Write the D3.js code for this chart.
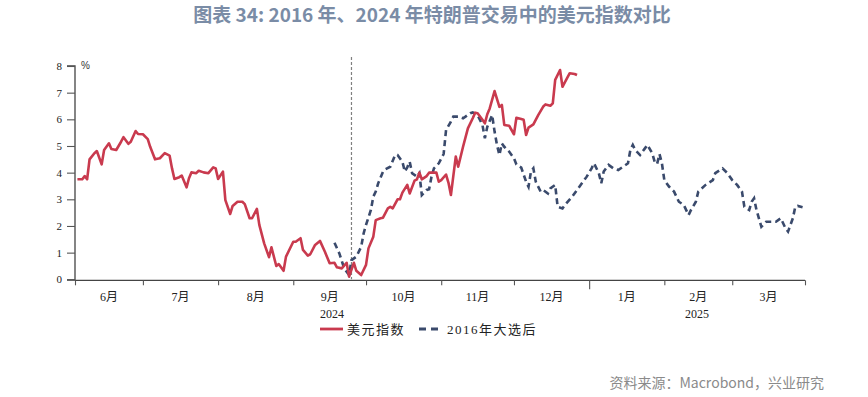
<!DOCTYPE html>
<html>
<head>
<meta charset="utf-8">
<script src="https://cdn.jsdelivr.net/npm/d3@7"></script>
<style>
  body { margin: 0; background: #fff; }
  svg { display: block; }
  .tick-label { font-family: "Liberation Serif", "Noto Sans CJK SC", serif; font-size: 12px; fill: #222; }
</style>
</head>
<body>
<div id="chart"></div>
<script>
// Chart geometry
const svgWidth = 868;
const svgHeight = 397;
const plot = { left: 75, right: 805, top: 66, bottom: 279.3 };

// Texts
const titleText = "图表 34: 2016 年、2024 年特朗普交易中的美元指数对比";
const sourceText = "资料来源：Macrobond，兴业研究";
const seriesNames = ["美元指数", "2016年大选后"];
const yTicks = [0, 1, 2, 3, 4, 5, 6, 7, 8];
const monthLabels = ["6月", "7月", "8月", "9月", "10月", "11月", "12月", "1月", "2月", "3月"];
const yearLabels = ["2024", "2025"];

// x range of the axis and the alignment marker
const axisStart = "2024-06-03";
const axisEnd = "2025-03-31";
const markerDate = "2024-09-25";

// 美元指数 (2024), % change
const usd2024 = [
  ["2024-06-04", 3.75], ["2024-06-06", 3.75], ["2024-06-07", 3.87], ["2024-06-08", 3.75],
  ["2024-06-09", 4.5], ["2024-06-11", 4.73], ["2024-06-12", 4.81], ["2024-06-14", 4.31],
  ["2024-06-15", 4.85], ["2024-06-17", 5.1], ["2024-06-18", 4.89], ["2024-06-20", 4.85],
  ["2024-06-22", 5.16], ["2024-06-23", 5.33], ["2024-06-25", 5.08], ["2024-06-26", 5.16],
  ["2024-06-28", 5.56], ["2024-06-29", 5.45], ["2024-07-01", 5.44], ["2024-07-03", 5.26],
  ["2024-07-04", 4.97], ["2024-07-06", 4.5], ["2024-07-08", 4.54], ["2024-07-10", 4.73],
  ["2024-07-12", 4.64], ["2024-07-13", 4.16], ["2024-07-14", 3.76], ["2024-07-16", 3.83],
  ["2024-07-17", 3.89], ["2024-07-19", 3.45], ["2024-07-20", 3.79], ["2024-07-21", 4.01],
  ["2024-07-23", 3.98], ["2024-07-24", 4.07], ["2024-07-26", 4.01], ["2024-07-28", 3.98],
  ["2024-07-30", 4.2], ["2024-07-31", 4.16], ["2024-08-01", 3.76], ["2024-08-03", 4.04],
  ["2024-08-04", 2.97], ["2024-08-06", 2.45], ["2024-08-07", 2.75], ["2024-08-09", 2.91],
  ["2024-08-11", 2.91], ["2024-08-12", 2.82], ["2024-08-14", 2.29], ["2024-08-15", 2.29],
  ["2024-08-17", 2.64], ["2024-08-18", 2.04], ["2024-08-20", 1.35], ["2024-08-22", 0.83],
  ["2024-08-23", 1.2], ["2024-08-25", 0.5], ["2024-08-26", 0.57], ["2024-08-28", 0.32],
  ["2024-08-29", 0.85], ["2024-09-01", 1.41], ["2024-09-02", 1.41], ["2024-09-04", 1.54],
  ["2024-09-05", 1.1], ["2024-09-07", 0.89], ["2024-09-08", 0.94], ["2024-09-10", 1.29],
  ["2024-09-12", 1.44], ["2024-09-14", 1.04], ["2024-09-16", 0.6], ["2024-09-18", 0.62],
  ["2024-09-19", 0.45], ["2024-09-21", 0.41], ["2024-09-23", 0.62], ["2024-09-24", 0.1],
  ["2024-09-26", 0.62], ["2024-09-27", 0.32], ["2024-09-29", 0.16], ["2024-10-01", 0.54],
  ["2024-10-02", 1.16], ["2024-10-04", 1.6], ["2024-10-05", 2.22], ["2024-10-07", 2.29],
  ["2024-10-08", 2.31], ["2024-10-10", 2.66], ["2024-10-11", 2.72], ["2024-10-12", 2.66],
  ["2024-10-14", 3.0], ["2024-10-15", 3.0], ["2024-10-16", 3.25], ["2024-10-18", 3.54],
  ["2024-10-19", 3.22], ["2024-10-21", 3.7], ["2024-10-22", 3.75], ["2024-10-23", 4.0],
  ["2024-10-24", 3.75], ["2024-10-26", 3.87], ["2024-10-27", 4.0], ["2024-10-30", 4.0],
  ["2024-10-31", 3.66], ["2024-11-01", 3.72], ["2024-11-03", 3.93], ["2024-11-04", 3.62],
  ["2024-11-05", 3.16], ["2024-11-07", 4.6], ["2024-11-08", 4.22], ["2024-11-10", 4.97],
  ["2024-11-12", 5.66], ["2024-11-14", 6.04], ["2024-11-15", 6.25], ["2024-11-16", 6.23],
  ["2024-11-18", 5.98], ["2024-11-19", 5.85], ["2024-11-20", 6.19], ["2024-11-21", 6.41],
  ["2024-11-23", 7.06], ["2024-11-25", 6.47], ["2024-11-26", 6.54], ["2024-11-27", 5.79],
  ["2024-11-29", 5.76], ["2024-12-01", 5.44], ["2024-12-02", 6.06], ["2024-12-04", 6.01],
  ["2024-12-05", 5.98], ["2024-12-06", 5.41], ["2024-12-07", 5.69], ["2024-12-09", 5.81],
  ["2024-12-11", 6.16], ["2024-12-13", 6.47], ["2024-12-14", 6.56], ["2024-12-16", 6.51],
  ["2024-12-17", 6.6], ["2024-12-18", 7.48], ["2024-12-20", 7.85], ["2024-12-21", 7.22],
  ["2024-12-23", 7.56], ["2024-12-24", 7.73], ["2024-12-26", 7.7], ["2024-12-27", 7.66]
];

// 2016年大选后, aligned onto the 2024 calendar, % change
const usd2016 = [
  ["2024-09-18", 1.37], ["2024-09-20", 0.97], ["2024-09-22", 0.41], ["2024-09-24", 0.16],
  ["2024-09-25", 0.72], ["2024-09-27", 0.85], ["2024-09-29", 1.22], ["2024-09-30", 1.72],
  ["2024-10-01", 2.04], ["2024-10-03", 2.6], ["2024-10-04", 3.1], ["2024-10-05", 3.29],
  ["2024-10-06", 3.6], ["2024-10-08", 4.04], ["2024-10-09", 4.13], ["2024-10-11", 4.22],
  ["2024-10-13", 4.66], ["2024-10-14", 4.66], ["2024-10-16", 4.41], ["2024-10-17", 4.04],
  ["2024-10-18", 4.2], ["2024-10-19", 4.41], ["2024-10-20", 3.98], ["2024-10-22", 3.85],
  ["2024-10-23", 3.98], ["2024-10-24", 3.16], ["2024-10-26", 3.35], ["2024-10-27", 3.38],
  ["2024-10-28", 3.85], ["2024-10-29", 4.16], ["2024-10-31", 4.35], ["2024-11-02", 4.7],
  ["2024-11-03", 5.6], ["2024-11-05", 5.91], ["2024-11-06", 6.1], ["2024-11-08", 6.1],
  ["2024-11-10", 6.04], ["2024-11-11", 6.1], ["2024-11-13", 6.23], ["2024-11-14", 6.26],
  ["2024-11-16", 6.16], ["2024-11-18", 5.79], ["2024-11-19", 5.29], ["2024-11-20", 5.72],
  ["2024-11-22", 6.16], ["2024-11-23", 5.54], ["2024-11-24", 5.04], ["2024-11-25", 4.66],
  ["2024-11-26", 5.1], ["2024-11-27", 4.97], ["2024-11-29", 4.79], ["2024-12-01", 4.54],
  ["2024-12-02", 4.31], ["2024-12-04", 4.19], ["2024-12-06", 3.66], ["2024-12-07", 3.47],
  ["2024-12-08", 4.04], ["2024-12-09", 4.16], ["2024-12-10", 3.66], ["2024-12-12", 3.29],
  ["2024-12-13", 3.35], ["2024-12-15", 3.22], ["2024-12-16", 3.41], ["2024-12-18", 3.54],
  ["2024-12-19", 2.72], ["2024-12-21", 2.66], ["2024-12-22", 2.79], ["2024-12-25", 3.1],
  ["2024-12-27", 3.35], ["2024-12-29", 3.6], ["2024-12-31", 3.85], ["2025-01-02", 4.16],
  ["2025-01-03", 4.35], ["2025-01-05", 3.98], ["2025-01-06", 3.6], ["2025-01-07", 4.04],
  ["2025-01-09", 4.29], ["2025-01-11", 4.16], ["2025-01-13", 4.1], ["2025-01-17", 4.35],
  ["2025-01-18", 4.85], ["2025-01-19", 5.04], ["2025-01-20", 4.85], ["2025-01-22", 4.66],
  ["2025-01-24", 4.91], ["2025-01-25", 5.04], ["2025-01-27", 4.73], ["2025-01-28", 4.41],
  ["2025-01-29", 4.32], ["2025-01-30", 4.7], ["2025-01-31", 4.35], ["2025-02-01", 3.72],
  ["2025-02-03", 3.47], ["2025-02-05", 3.29], ["2025-02-07", 2.91], ["2025-02-09", 2.79],
  ["2025-02-11", 2.41], ["2025-02-12", 2.6], ["2025-02-14", 2.91], ["2025-02-15", 3.29],
  ["2025-02-18", 3.54], ["2025-02-21", 3.72], ["2025-02-22", 3.98], ["2025-02-25", 4.16],
  ["2025-02-27", 3.98], ["2025-03-01", 3.72], ["2025-03-03", 3.54], ["2025-03-05", 3.29],
  ["2025-03-06", 2.72], ["2025-03-08", 2.6], ["2025-03-09", 2.91], ["2025-03-10", 3.04],
  ["2025-03-11", 2.6], ["2025-03-13", 1.97], ["2025-03-15", 2.16], ["2025-03-17", 2.16],
  ["2025-03-19", 2.16], ["2025-03-21", 2.29], ["2025-03-23", 1.91], ["2025-03-24", 1.79],
  ["2025-03-26", 2.29], ["2025-03-27", 2.72], ["2025-03-28", 2.75], ["2025-03-30", 2.7]
];

const colors = ["#c93a4e", "#3a4a6c"];

const parse = d3.timeParse("%Y-%m-%d");
const toPoints = (rows) => rows.map(([d, v]) => ({ date: parse(d), value: v }));

const x = d3.scaleTime()
  .domain([parse(axisStart), parse(axisEnd)])
  .range([plot.left, plot.right]);

const y = d3.scaleLinear()
  .domain([0, 8])
  .range([plot.bottom, plot.top]);

const svg = d3.select("#chart")
  .append("svg")
  .attr("width", svgWidth)
  .attr("height", svgHeight);

// Title
svg.append("text")
  .attr("x", 432)
  .attr("y", 22)
  .attr("text-anchor", "middle")
  .style("font-family", "'Noto Sans CJK SC', 'Noto Sans', sans-serif")
  .style("font-size", "19px")
  .style("font-weight", "bold")
  .style("fill", "#7a8ca6")
  .text(titleText);

// Y axis
const yAxis = svg.append("g")
  .attr("transform", `translate(${plot.left},0)`)
  .call(d3.axisLeft(y).tickValues(yTicks).tickSize(8).tickPadding(5).tickFormat(d3.format("d")));
yAxis.select(".domain").attr("stroke", "#444").attr("stroke-width", 1.3)
  .attr("d", `M${-8},${plot.bottom + 0.7}H0V${plot.top}H${-8}`);
yAxis.selectAll(".tick line").attr("stroke", "#555").attr("stroke-width", 1.1);
yAxis.selectAll(".tick text").attr("class", "tick-label").style("font-size", "11px");

// "%" unit label
svg.append("text")
  .attr("x", 81)
  .attr("y", 69)
  .style("font-family", "'Liberation Sans', sans-serif")
  .style("font-size", "10px")
  .style("fill", "#333")
  .text("%");

// X axis: month boundaries
const months = d3.timeMonth.range(d3.timeMonth.ceil(x.domain()[0]), x.domain()[1]);
const xTicks = [x.domain()[0], ...months, x.domain()[1]];
const xAxis = svg.append("g")
  .attr("transform", `translate(0,${plot.bottom + 1})`)
  .call(d3.axisBottom(x).tickValues(xTicks).tickSize(5).tickFormat(""));
xAxis.select(".domain").attr("stroke", "#444").attr("stroke-width", 1.3)
  .attr("d", `M${plot.left},0H${plot.right}`);
xAxis.selectAll(".tick line")
  .attr("stroke", "#555")
  .attr("stroke-width", 1.1)
  .attr("y2", (d) => (d.getMonth() === 0 && d.getDate() === 1 ? 9 : 5));

// Month labels centred in each month
const bounds = xTicks.map((d) => x(d));
monthLabels.forEach((label, i) => {
  svg.append("text")
    .attr("class", "tick-label")
    .attr("x", (bounds[i] + bounds[i + 1]) / 2)
    .attr("y", 301)
    .attr("text-anchor", "middle")
    .text(label);
});

// Year labels centred in each year's span
const yearStart = parse("2025-01-01");
const yearSpans = [[x.domain()[0], yearStart], [yearStart, x.domain()[1]]];
yearLabels.forEach((label, i) => {
  svg.append("text")
    .attr("class", "tick-label")
    .attr("x", (x(yearSpans[i][0]) + x(yearSpans[i][1])) / 2)
    .attr("y", 318)
    .attr("text-anchor", "middle")
    .text(label);
});

// Alignment marker
svg.append("line")
  .attr("x1", x(parse(markerDate)))
  .attr("x2", x(parse(markerDate)))
  .attr("y1", 57)
  .attr("y2", plot.bottom)
  .attr("stroke", "#808080")
  .attr("stroke-width", 1.2)
  .attr("stroke-dasharray", "3,2");

// Lines
const line = d3.line()
  .x((d) => x(d.date))
  .y((d) => y(d.value));

svg.append("path")
  .datum(toPoints(usd2016))
  .attr("fill", "none")
  .attr("stroke", colors[1])
  .attr("stroke-width", 2.6)
  .attr("stroke-dasharray", "6,4")
  .attr("d", line);

svg.append("path")
  .datum(toPoints(usd2024))
  .attr("fill", "none")
  .attr("stroke", colors[0])
  .attr("stroke-width", 2.6)
  .attr("stroke-linejoin", "round")
  .attr("d", line);

// Legend
const legendItems = [
  { name: seriesNames[0], color: colors[0], dash: null, x0: 320, tx: 347 },
  { name: seriesNames[1], color: colors[1], dash: "7,5", x0: 419, tx: 447 }
];
legendItems.forEach((item) => {
  svg.append("line")
    .attr("x1", item.x0)
    .attr("x2", item.x0 + 23)
    .attr("y1", 329)
    .attr("y2", 329)
    .attr("stroke", item.color)
    .attr("stroke-width", 2.8)
    .attr("stroke-dasharray", item.dash);
  svg.append("text")
    .attr("x", item.tx)
    .attr("y", 334)
    .style("font-family", "'Liberation Serif', 'Noto Sans CJK SC', serif")
    .style("font-size", "13px")
    .style("letter-spacing", "1.5px")
    .style("fill", "#222")
    .text(item.name);
});

// Source note
svg.append("text")
  .attr("x", 824)
  .attr("y", 388)
  .attr("text-anchor", "end")
  .style("font-family", "'Noto Sans CJK SC', 'Noto Sans', sans-serif")
  .style("font-size", "14px")
  .style("fill", "#8a8a8a")
  .text(sourceText);
</script>
</body>
</html>
